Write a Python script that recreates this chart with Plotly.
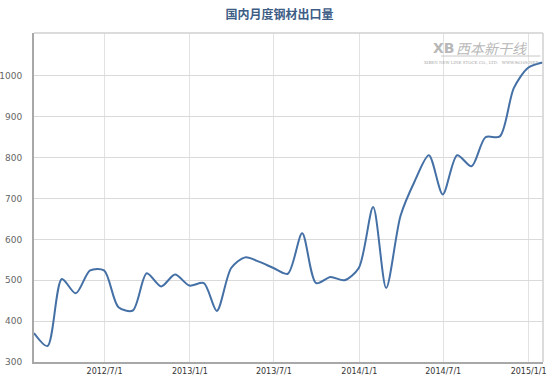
import plotly.graph_objects as go
import pandas as pd

title_text = "国内月度钢材出口量"

months = pd.date_range("2012-01-31", "2015-01-31", freq="ME").strftime("%Y-%m-%d").tolist()

export_volume = [
    371, 339, 503, 468, 524, 524, 434, 426, 517, 485, 514, 487,   # 2012
    493, 425, 530, 556, 545, 530, 516, 615, 493, 508, 500, 530,   # 2013
    679, 481, 658, 741, 806, 710, 806, 779, 850, 852, 970, 1020,  # 2014
    1033,                                                          # 2015-01
]

tick_dates = ["2012-07-01", "2013-01-01", "2013-07-01", "2014-01-01", "2014-07-01", "2015-01-01"]
tick_labels = ["2012/7/1", "2013/1/1", "2013/7/1", "2014/1/1", "2014/7/1", "2015/1/1"]
y_ticks = [300, 400, 500, 600, 700, 800, 900, 1000]

fig = go.Figure()
fig.add_trace(go.Scatter(
    x=months, y=export_volume, mode="lines",
    line=dict(color="#4470A6", width=2, shape="spline", smoothing=0.8),
    hoverinfo="x+y", showlegend=False,
))

fig.update_layout(
    width=559, height=385,
    margin=dict(l=34, r=16, t=33, b=23, autoexpand=False),
    paper_bgcolor="white", plot_bgcolor="white",
    title=dict(text="<b>" + title_text + "</b>", x=0.5, xanchor="center",
               xref="container", yref="container", y=0.962, yanchor="middle",
               font=dict(family="Noto Sans CJK SC", size=12, color="#3D5D86")),
    xaxis=dict(
        type="date", range=["2012-01-31", "2015-02-01"], automargin=False,
        tickvals=tick_dates, ticktext=tick_labels,
        showgrid=True, gridcolor="#E2E2E2", gridwidth=1,
        showline=True, linecolor="#A8A8A8", linewidth=2,
        ticks="", tickfont=dict(family="DejaVu Sans", size=8, color="#333333"),
        tickprefix="<b>", ticksuffix="</b>",
        zeroline=False,
    ),
    yaxis=dict(
        range=[300, 1105], tickvals=y_ticks, automargin=False,
        showgrid=True, gridcolor="#DADADA", gridwidth=1,
        showline=True, linecolor="#A8A8A8", linewidth=2,
        ticks="", ticklabelstandoff=8,
        tickfont=dict(family="DejaVu Sans", size=9, color="#666666"),
        zeroline=False,
    ),
    shapes=[
        dict(type="line", xref="paper", yref="paper", x0=0, x1=1, y0=1, y1=1,
             line=dict(color="#D0D0D0", width=1.5)),
        dict(type="line", xref="paper", yref="paper", x0=1, x1=1, y0=0, y1=1,
             line=dict(color="#D0D0D0", width=1.5)),
        dict(type="line", xref="paper", yref="paper", x0=0.80, x1=0.995, y0=0.93, y1=0.93,
             line=dict(color="#C8C8C8", width=1)),
    ],
    annotations=[
        dict(text="<i>西本新干线</i>", xref="paper", yref="paper", x=0.974, y=0.99,
             xanchor="right", yanchor="top", showarrow=False,
             font=dict(family="Noto Sans CJK SC", size=14, color="#B8B8B8")),
        dict(text="<b>XB</b>", xref="paper", yref="paper", x=0.83, y=0.985,
             xanchor="right", yanchor="top", showarrow=False,
             font=dict(family="DejaVu Sans", size=14, color="#B8B8B8")),
        dict(text="XIBEN NEW LINE STOCK CO., LTD.   WWW.96369.NET", xref="paper", yref="paper",
             x=0.995, y=0.925, xanchor="right", yanchor="top", showarrow=False,
             font=dict(family="DejaVu Serif", size=4, color="#A8A8A8")),
    ],
)

fig.write_html("out.html", config={"displayModeBar": False},
               post_script="document.body.style.margin='0px';")
